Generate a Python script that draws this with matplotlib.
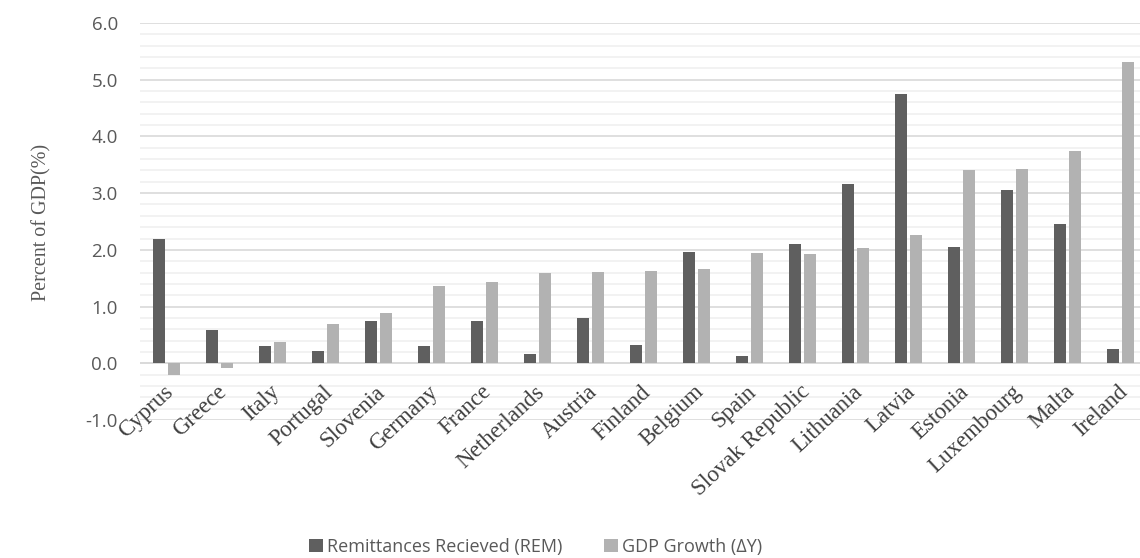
import matplotlib
matplotlib.use("Agg")
import matplotlib.pyplot as plt
import numpy as np

countries = ["Cyprus", "Greece", "Italy", "Portugal", "Slovenia", "Germany", "France",
             "Netherlands", "Austria", "Finland", "Belgium", "Spain", "Slovak Republic",
             "Lithuania", "Latvia", "Estonia", "Luxembourg", "Malta", "Ireland"]
rem = [2.19, 0.58, 0.30, 0.21, 0.74, 0.31, 0.74, 0.16, 0.79, 0.33, 1.96, 0.13, 2.10,
       3.16, 4.75, 2.05, 3.05, 2.45, 0.25]
gdp = [-0.20, -0.08, 0.37, 0.70, 0.89, 1.37, 1.43, 1.60, 1.61, 1.63, 1.67, 1.94, 1.93,
       2.04, 2.27, 3.41, 3.43, 3.75, 5.32]
yticks = [-1.0, 0.0, 1.0, 2.0, 3.0, 4.0, 5.0, 6.0]
series_names = ["Remittances Recieved (REM)", "GDP Growth (\u0394Y)"]

W, H = 1140, 558
fig = plt.figure(figsize=(W / 100, H / 100), dpi=100)
ax = fig.add_axes([140 / W, (H - 420) / H, 1007 / W, 397 / H])

x = np.arange(len(countries))
bw = 0.23
ax.bar(x - 0.14, rem, width=bw, color="#5f5f5f", label=series_names[0], zorder=3)
ax.bar(x + 0.14, gdp, width=bw, color="#b2b2b2", label=series_names[1], zorder=3)

ax.set_xlim(-0.5, len(countries) - 0.5)
ax.set_ylim(-1.0, 6.0)
ax.set_yticks(yticks)
ax.set_yticklabels([f"{v:.1f}" for v in yticks], family="Open Sans", fontsize=13.5, color="#595959")
ax.set_yticks(np.arange(-1.0, 6.0001, 0.2), minor=True)
ax.tick_params(axis="y", which="both", length=0, pad=16)
ax.tick_params(axis="x", which="both", length=0, labelbottom=False)
ax.grid(axis="y", which="major", color="#d9d9d9", linewidth=1.2, zorder=0)
ax.grid(axis="y", which="minor", color="#f0f0f0", linewidth=1.2, zorder=0)
ax.grid(axis="x", visible=False)
for s in ax.spines.values():
    s.set_visible(False)
ax.axhline(0, color="#d9d9d9", linewidth=1.2, zorder=2)

for i, name in enumerate(countries):
    ax.annotate(name, xy=(i - 0.06, 0), xytext=(0, -13), textcoords="offset points",
                rotation=43, ha="right", va="top", rotation_mode="anchor",
                family="Liberation Serif", fontsize=16.5, color="#404040", clip_on=False)

fig.text(42 / W, 1 - 222 / H, "Percent of GDP(%)", rotation=90, ha="center", va="center",
         family="Liberation Serif", fontsize=14.5, color="#595959")

handles, labels = ax.get_legend_handles_labels()
leg = fig.legend(handles, labels, loc="center", bbox_to_anchor=(536 / W, 1 - 547 / H),
                 ncol=2, frameon=False, prop={"family": "Open Sans", "size": 13},
                 handlelength=0.75, handleheight=0.75, handletextpad=0.25, columnspacing=2.3)
for t in leg.get_texts():
    t.set_color("#595959")

fig.savefig("out.png", dpi=100)
